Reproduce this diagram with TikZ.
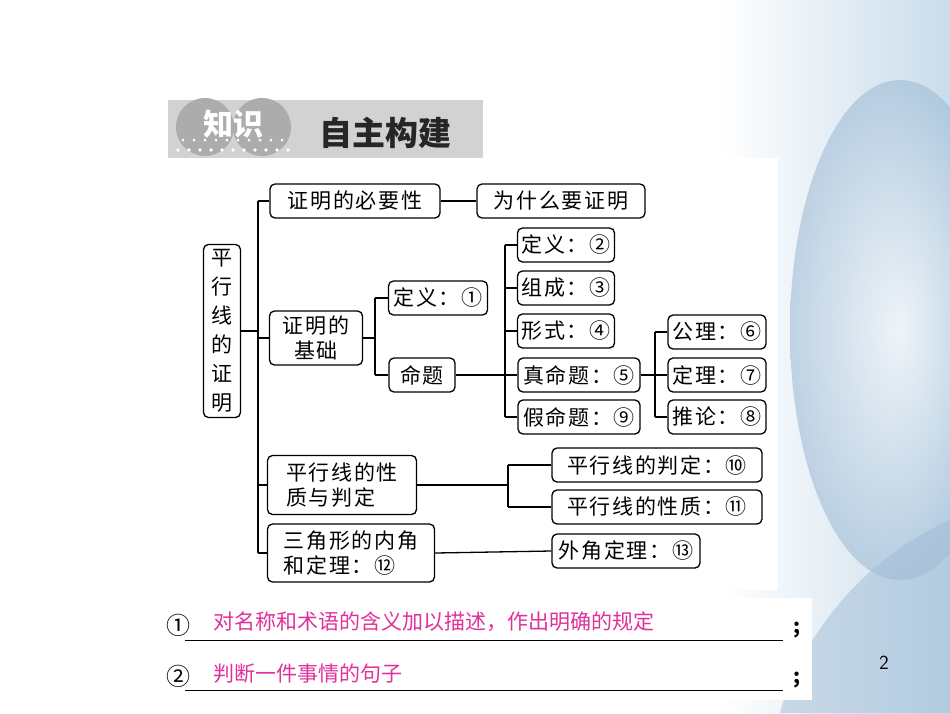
\documentclass[tikz,border=0pt]{standalone}
\usepackage{fontspec}
\newfontfamily\cjk[LetterSpace=8]{Noto Sans CJK SC}
\newfontfamily\cjkn{Noto Sans CJK SC}
\usetikzlibrary{shadings}
\definecolor{pk}{HTML}{E0309A}
\definecolor{bg}{HTML}{C9DCEB}
\definecolor{bg2}{HTML}{9FBCD6}
\begin{document}
\begin{tikzpicture}[x=1pt,y=-1pt,
 bx/.style={draw,line width=1.3pt,rounded corners=5pt,font=\cjk\fontsize{21}{24}\selectfont,inner sep=0pt,minimum height=34pt},
 ln/.style={line width=1.3pt}]
\useasboundingbox (0,0) rectangle (950,713);
\fill[white] (0,0) rectangle (950,713);
% background flower-ish
\shade[left color=white,right color=bg] (720,0) rectangle (950,713);
\shade[inner color=white,outer color=bg2,opacity=0.6] (900,330) ellipse (110 and 250);
\fill[bg2,opacity=0.5] (950,520) .. controls (860,560) and (800,640) .. (780,713) -- (950,713) -- cycle;
\fill[white] (150,158) rectangle (778,590);
\fill[white] (150,598) rectangle (812,700);
% header
\fill[gray!35] (168,100) rectangle (483,158);
\fill[gray!65] (205,127) circle (29);
\fill[gray!65] (262,127) circle (29);
\foreach \i in {0,...,10}{\fill[white] (178+\i*11,150) circle (1.8);}
\foreach \i in {0,...,9}{\fill[white] (183+\i*11,140) circle (1.5);}
\node[text=white,font=\cjkn\bfseries\fontsize{30}{32}\selectfont] (zs) at (233,124) {知识};
\node[font=\cjkn\bfseries\fontsize{33}{34}\selectfont,text=black!85] (zz) at (385,133) {自主构建};
% nodes
\node[bx,minimum width=37pt,minimum height=173pt,align=center,font=\cjkn\fontsize{21}{29}\selectfont] (root) at (222,331) {平\\行\\线\\的\\证\\明};
\node[bx,minimum width=170pt] (a) at (355,201) {证明的必要性};
\node[bx,minimum width=168pt] (a2) at (561,201) {为什么要证明};
\node[bx,minimum width=93pt,minimum height=54pt,align=center,font=\cjk\fontsize{21}{25}\selectfont] (b) at (316,338) {证明的\\基础};
\node[bx,minimum width=99pt] (b1) at (438,298) {定义：①};
\node[bx,minimum width=66pt] (b2) at (422,375) {命题};
\node[bx,minimum width=97pt] (c1) at (566,245) {定义：②};
\node[bx,minimum width=97pt] (c2) at (566,288) {组成：③};
\node[bx,minimum width=97pt] (c3) at (566,331) {形式：④};
\node[bx,minimum width=122pt] (c4) at (579,375) {真命题：⑤};
\node[bx,minimum width=122pt] (c5) at (579,417) {假命题：⑨};
\node[bx,minimum width=98pt] (d1) at (717,332) {公理：⑥};
\node[bx,minimum width=98pt] (d2) at (717,375) {定理：⑦};
\node[bx,minimum width=98pt] (d3) at (717,417) {推论：⑧};
\node[bx,minimum width=149pt,minimum height=59pt,align=left,font=\cjk\fontsize{21}{25}\selectfont] (e) at (342,485) {平行线的性\\质与判定};
\node[bx,minimum width=210pt] (e1) at (657,465) {平行线的判定：⑩};
\node[bx,minimum width=210pt] (e2) at (657,507) {平行线的性质：⑪};
\node[bx,minimum width=167pt,minimum height=58pt,align=left,font=\cjk\fontsize{21}{25}\selectfont] (f) at (351,553) {三角形的内角\\和定理：⑫};
\node[bx,minimum width=148pt] (f1) at (626,551) {外角定理：⑬};
% connectors
\coordinate (t1) at (258,201); \coordinate (t2) at (258,553);
\draw[ln] (t1) -- (t2);
\draw[ln] (root.east) -- (root.east -| t1);
\draw[ln] (a.west -| t1) -- (a.west);
\draw[ln] (b.west -| t1) -- (b.west);
\draw[ln] (e.west -| t1) -- (e.west);
\draw[ln] (f.west -| t1) -- (f.west);
\draw[ln] (a) -- (a2);
\coordinate (u) at (375,0);
\draw[ln] (b.east) -- (b.east -| u) (b1.west -| u) -- (b2.west -| u) (b1.west -| u) -- (b1.west) (b2.west -| u) -- (b2.west);
\coordinate (v) at (505,0);
\draw[ln] (b2.east) -- (c4.west) (c1.west -| v) -- (c5.west -| v);
\foreach \n in {c1,c2,c3,c5}{\draw[ln] (\n.west -| v) -- (\n.west);}
\coordinate (w) at (655,0);
\draw[ln] (c4.east) -- (d2.west) (d1.west -| w) -- (d3.west -| w) (d1.west -| w) -- (d1.west) (d3.west -| w) -- (d3.west);
\coordinate (p) at (508,0);
\draw[ln] (e.east) -- (e.east -| p) (e1.west -| p) -- (e2.west -| p) (e1.west -| p) -- (e1.west) (e2.west -| p) -- (e2.west);
\draw[ln] (f.east) -- (f1.west);
% answers
\node[font=\cjkn\fontsize{24}{26}\selectfont,anchor=west] (n1) at (163,625) {①};
\node[font=\cjkn\fontsize{24}{26}\selectfont,anchor=west] (n2) at (163,676) {②};
\node[font=\cjkn\fontsize{21}{24}\selectfont,text=pk,anchor=west] (s1) at (210,622) {对名称和术语的含义加以描述，作出明确的规定};
\node[font=\cjkn\fontsize{21}{24}\selectfont,text=pk,anchor=west] (s2) at (210,674) {判断一件事情的句子};
\draw[line width=1pt] (185,640) -- (783,640) (185,690) -- (783,690);
\node[font=\cjkn\bfseries\fontsize{20}{24}\selectfont] (sc1) at (797,630) {;};
\node[font=\cjkn\bfseries\fontsize{20}{24}\selectfont] (sc2) at (797,680) {;};
\node[font=\sffamily\fontsize{20}{24}\selectfont] (pg) at (884,663) {2};
\end{tikzpicture}
\end{document}
